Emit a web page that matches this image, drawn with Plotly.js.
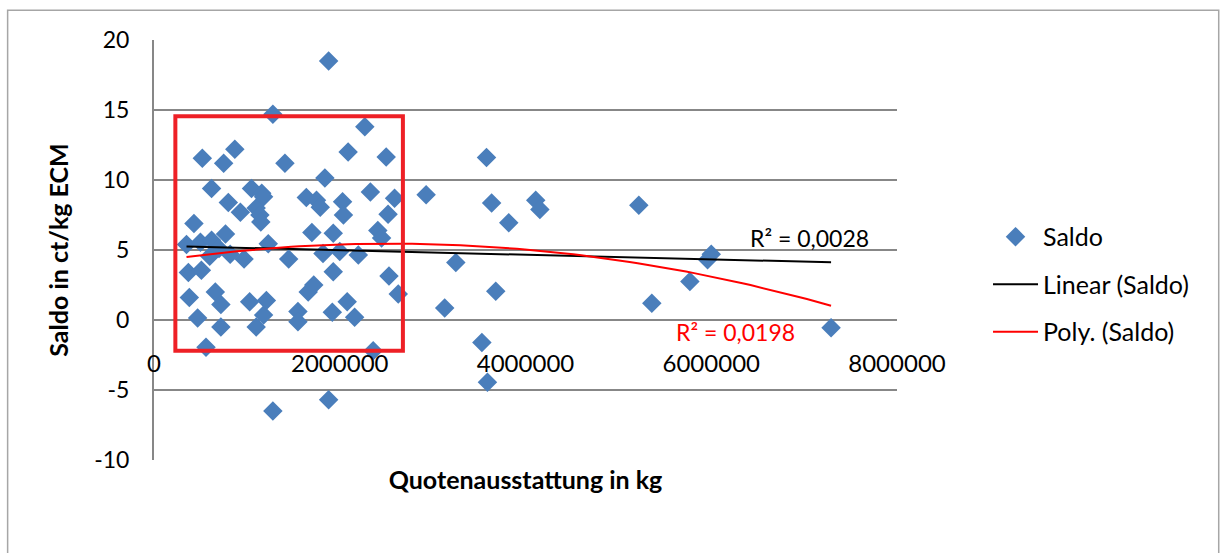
<!DOCTYPE html>
<html>
<head>
<meta charset="utf-8">
<script src="https://cdn.plot.ly/plotly-3.0.1.min.js"></script>
<style>
  html, body { margin: 0; padding: 0; background: #ffffff; }
  #chart { width: 1225px; height: 553px; }
</style>
</head>
<body>
<div id="chart"></div>
<script>
// Quotenausstattung in kg
const quota = [
  350000, 370000, 380000, 430000, 470000, 500000, 510000, 520000, 560000, 600000,
  620000, 620000, 660000, 700000, 720000, 720000, 750000, 770000, 800000, 820000,
  870000, 930000, 970000, 1030000, 1050000, 1100000, 1100000, 1140000, 1150000, 1160000,
  1180000, 1180000, 1210000, 1230000, 1280000, 1280000, 1410000, 1450000, 1550000, 1550000,
  1640000, 1660000, 1700000, 1720000, 1750000, 1790000, 1820000, 1840000, 1880000, 1880000,
  1920000, 1930000, 1930000, 2000000, 2030000, 2040000, 2080000, 2090000, 2160000, 2200000,
  2270000, 2330000, 2360000, 2410000, 2450000, 2500000, 2520000, 2530000, 2590000, 2630000,
  2930000, 3130000, 3250000, 3530000, 3580000, 3590000, 3635000, 3680000, 3820000, 4110000,
  4155000, 5220000, 5360000, 5770000, 5960000, 6000000, 7290000
];
// Saldo in ct/kg ECM
const saldo = [
  5.4, 3.4, 1.6, 6.9, 0.15, 5.55, 3.55, 11.55, -1.95, 4.55,
  9.4, 5.7, 2.0, 5.1, 1.1, -0.5, 11.2, 6.15, 8.4, 4.7,
  12.2, 7.7, 4.35, 1.3, 9.4, 8.0, -0.5, 7.5, 7.0, 9.05,
  8.8, 0.35, 1.4, 5.45, 14.7, -6.5, 11.2, 4.35, 0.6, -0.12,
  8.75, 2.0, 6.25, 2.5, 8.55, 8.05, 4.75, 10.15, 18.5, -5.7,
  0.55, 6.2, 3.45, 4.9, 8.45, 7.5, 1.3, 12.0, 0.2, 4.65,
  13.8, 9.15, -2.2, 6.4, 5.85, 11.65, 7.55, 3.15, 8.7, 1.85,
  8.95, 0.85, 4.1, -1.6, 11.6, -4.45, 8.35, 2.05, 6.95, 8.55,
  7.9, 8.2, 1.2, 2.75, 4.3, 4.7, -0.55
];
// Trendline coefficients (x in millions of kg): c0 + c1*x + c2*x^2
const linearCoef = [5.31, -0.163];
const polyCoef = [4.173, 1.0025, -0.1968];
const legendNames = ['Saldo', 'Linear (Saldo)', 'Poly. (Saldo)'];
const r2Labels = ['R² = 0,0028', 'R² = 0,0198'];
const xTicks = [0, 2000000, 4000000, 6000000, 8000000];
const yTicks = [-10, -5, 0, 5, 10, 15, 20];
// highlighted region (red box) in data units
const boxX = [230000, 2680000];
const boxY = [-2.2, 14.55];

function evalPoly(c, xkg) {
  const x = xkg / 1e6;
  return c.reduce((s, ci, i) => s + ci * Math.pow(x, i), 0);
}
// trendlines span the data's x range, as in the spreadsheet chart
const xmin = Math.min(...quota), xmax = Math.max(...quota);
const steps = 80;
const trendX = [];
for (let i = 0; i <= steps; i++) trendX.push(xmin + (xmax - xmin) * i / steps);
const linY = trendX.map(x => evalPoly(linearCoef, x));
const polyY = trendX.map(x => evalPoly(polyCoef, x));

const FONT = 'Lato, "Open Sans", sans-serif';

const traces = [
  {
    x: quota, y: saldo, type: 'scatter', mode: 'markers', name: legendNames[0],
    legendgroup: 'a',
    marker: {symbol: 'diamond', size: 15, color: '#4a7ebb', line: {width: 0}},
    cliponaxis: false
  },
  {
    x: trendX, y: linY, type: 'scatter', mode: 'lines', name: legendNames[1],
    legendgroup: 'b',
    line: {color: '#000000', width: 2}
  },
  {
    x: trendX, y: polyY, type: 'scatter', mode: 'lines', name: legendNames[2],
    legendgroup: 'c',
    line: {color: '#ff0000', width: 2}
  }
];

const layout = {
  width: 1225, height: 553,
  margin: {l: 154, r: 328, t: 40, b: 93},
  paper_bgcolor: '#ffffff', plot_bgcolor: '#ffffff',
  font: {family: FONT, size: 22, color: '#000000'},
  showlegend: true,
  legend: {
    x: 1.1225, y: 0.586, xanchor: 'left', yanchor: 'top',
    font: {family: FONT, size: 25, color: '#000000'},
    tracegroupgap: 12, itemwidth: 45, bgcolor: 'rgba(0,0,0,0)'
  },
  xaxis: {
    range: [0, 8000000], tickvals: xTicks, ticktext: xTicks.map(String),
    showgrid: false, zeroline: false, showline: false, ticks: '',
    anchor: 'free', position: 0.27,
    tickfont: {family: FONT, size: 24, color: '#000000'},
    title: {text: '<b>Quotenausstattung in kg</b>', standoff: 95,
            font: {family: FONT, size: 25, color: '#000000'}},
    automargin: false
  },
  yaxis: {
    range: [-10, 20], tickvals: yTicks, ticktext: yTicks.map(String),
    showgrid: true, gridcolor: '#878787', gridwidth: 2,
    zeroline: false, showline: true, linecolor: '#878787', linewidth: 2,
    ticks: '', ticklabelstandoff: 18,
    tickfont: {family: FONT, size: 23, color: '#000000'},
    title: {text: '<b>Saldo in ct/kg ECM</b>', standoff: 18,
            font: {family: FONT, size: 25, color: '#000000'}},
    automargin: false
  },
  shapes: [
    {type: 'rect', xref: 'x', yref: 'y', x0: boxX[0], x1: boxX[1], y0: boxY[0], y1: boxY[1],
     line: {color: '#ee2026', width: 4}, fillcolor: 'rgba(0,0,0,0)', layer: 'above'},
    {type: 'rect', xref: 'paper', yref: 'paper', x0: -0.197, x1: 1.433, y0: -0.3, y1: 1.071,
     line: {color: '#a6a6a6', width: 1.5}, fillcolor: 'rgba(0,0,0,0)', layer: 'below'}
  ],
  annotations: [
    {x: 7060000, y: 5.85, xref: 'x', yref: 'y', text: r2Labels[0], showarrow: false,
     xanchor: 'center', yanchor: 'middle', font: {family: FONT, size: 23, color: '#000000'}},
    {x: 6260000, y: -0.85, xref: 'x', yref: 'y', text: r2Labels[1], showarrow: false,
     xanchor: 'center', yanchor: 'middle', font: {family: FONT, size: 23, color: '#ff0000'}}
  ]
};

Plotly.newPlot('chart', traces, layout, {displayModeBar: false, staticPlot: true});
</script>
</body>
</html>
